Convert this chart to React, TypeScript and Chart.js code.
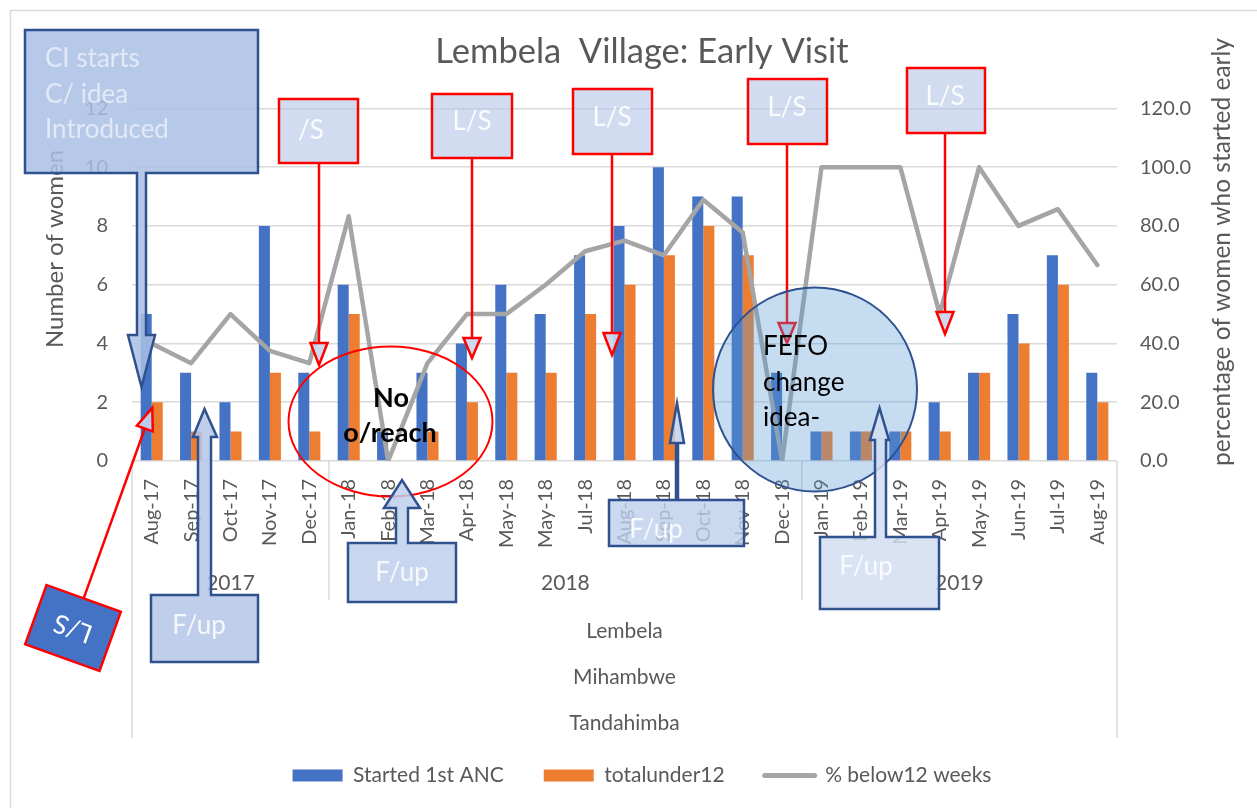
import React, { useEffect, useRef } from 'react';
import { Chart, registerables } from 'chart.js';

Chart.register(...registerables);

const FONT = 'Lato, "Open Sans", sans-serif';
const TEXT = '#595959';

// ---- data ----
const categories = ['Aug-17', 'Sep-17', 'Oct-17', 'Nov-17', 'Dec-17', 'Jan-18', 'Feb-18', 'Mar-18', 'Apr-18', 'May-18', 'May-18', 'Jul-18', 'Aug-18', 'Sep-18', 'Oct-18', 'Nov-18', 'Dec-18', 'Jan-19', 'Feb-19', 'Mar-19', 'Apr-19', 'May-19', 'Jun-19', 'Jul-19', 'Aug-19'];
const yearLabels = ['2017', '2018', '2019'];
const yearSpans = [5, 12, 8];
const districtLabels = ['Lembela', 'Mihambwe', 'Tandahimba'];
const startedAnc = [5, 3, 2, 8, 3, 6, 1, 3, 4, 6, 5, 7, 8, 10, 9, 9, 3, 1, 1, 1, 2, 3, 5, 7, 3];
const totalUnder12 = [2, 1, 1, 3, 1, 5, 0, 1, 2, 3, 3, 5, 6, 7, 8, 7, 0, 1, 1, 1, 1, 3, 4, 6, 2];
const pctBelow12 = [40, 33.3, 50, 37.5, 33.3, 83.3, 0, 33.3, 50, 50, 60, 71.4, 75, 70, 88.9, 77.8, 0, 100, 100, 100, 50, 100, 80, 85.7, 66.7];
const seriesNames = ['Started 1st ANC', 'totalunder12', '% below12 weeks'];
const titleText = 'Lembela  Village: Early Visit';
const leftAxisTitle = 'Number of women';
const rightAxisTitle = 'percentage of women who started early';

// ---- annotation layout (not data) ----
const redCallouts = [
  { text: '/S', box: [279, 99, 358, 163], tx: 311, ty: 131, lx: 319, headTop: 343, tip: 365 },
  { text: 'L/S', box: [432, 94, 512, 158], tx: 472, ty: 122, lx: 472, headTop: 338, tip: 358 },
  { text: 'L/S', box: [573, 89, 652, 154], tx: 612, ty: 118, lx: 612, headTop: 333, tip: 355 },
  { text: 'L/S', box: [748, 79, 827, 144], tx: 787, ty: 108, lx: 787, headTop: 323, tip: 343 },
  { text: 'L/S', box: [907, 68, 985, 133], tx: 945, ty: 97, lx: 945, headTop: 312, tip: 334 },
];
const fupCallouts = [
  { box: [151, 595, 258, 662], shaft: [198, 211], headY: 437, head: [193, 217], tip: [204.5, 409], tx: 199, ty: 626, fill: 'rgba(180,199,231,0.85)' },
  { box: [348, 543, 456, 602], shaft: [396, 408], headY: 508, head: [384, 420], tip: [402, 480], tx: 402, ty: 573, fill: 'rgba(190,207,236,0.85)' },
  { box: [609, 500, 744, 546], shaft: [676, 678], headY: 443, head: [670, 684], tip: [677, 403], tx: 656, ty: 530, fill: 'rgba(190,207,236,0.8)' },
  { box: [820, 537, 939, 609], shaft: [875, 886], headY: 440, head: [870, 889], tip: [879.5, 408], tx: 866, ty: 567, fill: 'rgba(210,222,242,0.85)' },
];

function redCallout(ctx: CanvasRenderingContext2D, c: any) {
  const [x1, y1, x2, y2] = c.box;
  ctx.save();
  ctx.lineWidth = 2.5;
  ctx.strokeStyle = '#FF0000';
  ctx.fillStyle = 'rgba(180,199,231,0.62)';
  ctx.fillRect(x1, y1, x2 - x1, y2 - y1);
  ctx.strokeRect(x1, y1, x2 - x1, y2 - y1);
  ctx.beginPath();
  ctx.moveTo(c.lx, y2);
  ctx.lineTo(c.lx, c.headTop);
  ctx.stroke();
  ctx.beginPath();
  ctx.moveTo(c.lx - 8.5, c.headTop);
  ctx.lineTo(c.lx + 8.5, c.headTop);
  ctx.lineTo(c.lx, c.tip);
  ctx.closePath();
  ctx.fillStyle = 'rgba(200,215,240,0.9)';
  ctx.fill();
  ctx.stroke();
  ctx.fillStyle = 'rgba(255,255,255,0.9)';
  ctx.font = `26px ${FONT}`;
  ctx.textAlign = 'center';
  ctx.textBaseline = 'middle';
  ctx.fillText(c.text, c.tx, c.ty);
  ctx.restore();
}

function upCallout(ctx: CanvasRenderingContext2D, c: any) {
  const [x1, y1, x2, y2] = c.box;
  const [sx1, sx2] = c.shaft;
  const [hx1, hx2] = c.head;
  ctx.save();
  ctx.beginPath();
  ctx.moveTo(x1, y1);
  ctx.lineTo(sx1, y1);
  ctx.lineTo(sx1, c.headY);
  ctx.lineTo(hx1, c.headY);
  ctx.lineTo(c.tip[0], c.tip[1]);
  ctx.lineTo(hx2, c.headY);
  ctx.lineTo(sx2, c.headY);
  ctx.lineTo(sx2, y1);
  ctx.lineTo(x2, y1);
  ctx.lineTo(x2, y2);
  ctx.lineTo(x1, y2);
  ctx.closePath();
  ctx.fillStyle = c.fill;
  ctx.fill();
  ctx.lineWidth = 2.5;
  ctx.lineJoin = 'miter';
  ctx.strokeStyle = '#2F528F';
  ctx.stroke();
  ctx.fillStyle = 'rgba(255,255,255,0.85)';
  ctx.font = `26px ${FONT}`;
  ctx.textAlign = 'center';
  ctx.textBaseline = 'middle';
  ctx.fillText('F/up', c.tx, c.ty);
  ctx.restore();
}

const extrasPlugin = {
  id: 'extras',
  afterDraw(chart: any) {
    const { ctx, chartArea: ca, scales } = chart;
    const xs = scales.x;
    ctx.save();

    // outer chart border
    ctx.strokeStyle = '#D9D9D9';
    ctx.lineWidth = 1.5;
    ctx.strokeRect(10.5, 10.5, 1265, 820);

    // multi-level category separators
    ctx.strokeStyle = '#D9D9D9';
    ctx.lineWidth = 1.5;
    const vline = (px: number, y2: number) => {
      ctx.beginPath();
      ctx.moveTo(px, ca.bottom);
      ctx.lineTo(px, y2);
      ctx.stroke();
    };
    vline(ca.left, ca.bottom + 277);
    vline(ca.right, ca.bottom + 277);

    ctx.fillStyle = TEXT;
    ctx.font = `21px ${FONT}`;
    ctx.textAlign = 'center';
    ctx.textBaseline = 'middle';
    let idx = 0;
    yearSpans.forEach((span, k) => {
      const start = idx;
      const end = idx + span - 1;
      const cx = (xs.getPixelForValue(start) + xs.getPixelForValue(end)) / 2;
      ctx.fillText(yearLabels[k], cx, ca.bottom + 122);
      if (k < yearSpans.length - 1) {
        const bx = (xs.getPixelForValue(end) + xs.getPixelForValue(end + 1)) / 2;
        vline(bx, ca.bottom + 139);
      }
      idx += span;
    });
    districtLabels.forEach((d, i) => {
      ctx.fillText(d, (ca.left + ca.right) / 2, ca.bottom + 170 + 46 * i);
    });

    // axis titles
    ctx.font = `24px ${FONT}`;
    ctx.save();
    ctx.translate(55, 249);
    ctx.rotate(-Math.PI / 2);
    ctx.fillText(leftAxisTitle, 0, 0);
    ctx.restore();
    ctx.save();
    ctx.translate(1222, 252);
    ctx.rotate(-Math.PI / 2);
    ctx.font = `24.5px ${FONT}`;
    ctx.fillText(rightAxisTitle, 0, 0);
    ctx.restore();

    // red L/S callouts
    redCallouts.forEach((c) => redCallout(ctx, c));

    // "No o/reach" ellipse
    ctx.beginPath();
    ctx.ellipse(390.5, 421.5, 102, 75, 0, 0, Math.PI * 2);
    ctx.strokeStyle = '#FF0000';
    ctx.lineWidth = 2;
    ctx.stroke();
    ctx.fillStyle = '#000000';
    ctx.font = `bold 27px ${FONT}`;
    ctx.textAlign = 'center';
    ctx.fillText('No', 391, 398);
    ctx.fillText('o/reach', 390, 433);

    // CI callout (down arrow)
    ctx.beginPath();
    ctx.moveTo(25, 30);
    ctx.lineTo(258, 30);
    ctx.lineTo(258, 173);
    ctx.lineTo(146, 173);
    ctx.lineTo(146, 335);
    ctx.lineTo(155, 335);
    ctx.lineTo(141.5, 387);
    ctx.lineTo(128, 335);
    ctx.lineTo(137, 335);
    ctx.lineTo(137, 173);
    ctx.lineTo(25, 173);
    ctx.closePath();
    ctx.fillStyle = 'rgba(170,192,228,0.85)';
    ctx.fill();
    ctx.strokeStyle = '#2F528F';
    ctx.lineWidth = 2.5;
    ctx.stroke();
    ctx.fillStyle = 'rgba(255,255,255,0.6)';
    ctx.font = `26px ${FONT}`;
    ctx.textAlign = 'left';
    ctx.fillText('CI starts', 45, 59);
    ctx.fillText('C/ idea', 45, 95);
    ctx.fillText('Introduced', 45, 130);

    // FEFO circle
    ctx.beginPath();
    ctx.arc(815, 389.5, 102, 0, Math.PI * 2);
    ctx.fillStyle = 'rgba(91,155,213,0.35)';
    ctx.fill();
    ctx.strokeStyle = '#2F528F';
    ctx.lineWidth = 2;
    ctx.stroke();
    ctx.fillStyle = '#000000';
    ctx.font = `26px ${FONT}`;
    ctx.textAlign = 'left';
    ctx.fillText('FEFO', 763, 347);
    ctx.fillText('change', 763, 383);
    ctx.fillText('idea-', 763, 418);

    // F/up callouts
    fupCallouts.forEach((c) => upCallout(ctx, c));

    // rotated L/S callout
    ctx.save();
    ctx.translate(73, 628);
    ctx.rotate((199.8 * Math.PI) / 180);
    const w = 79, h = 63, D = 234, hl = 22;
    ctx.strokeStyle = '#FF0000';
    ctx.lineWidth = 2.5;
    ctx.beginPath();
    ctx.moveTo(0, h / 2);
    ctx.lineTo(0, D - hl);
    ctx.stroke();
    ctx.beginPath();
    ctx.moveTo(-8.5, D - hl);
    ctx.lineTo(8.5, D - hl);
    ctx.lineTo(0, D);
    ctx.closePath();
    ctx.fillStyle = 'rgba(200,215,240,0.9)';
    ctx.fill();
    ctx.stroke();
    ctx.fillStyle = '#4472C4';
    ctx.fillRect(-w / 2, -h / 2, w, h);
    ctx.strokeRect(-w / 2, -h / 2, w, h);
    ctx.fillStyle = '#FFFFFF';
    ctx.font = `26px ${FONT}`;
    ctx.textAlign = 'center';
    ctx.textBaseline = 'middle';
    ctx.fillText('L/S', 0, 0);
    ctx.restore();

    ctx.restore();
  },
};

export default function App() {
  const ref = useRef<HTMLCanvasElement>(null);
  useEffect(() => {
    const canvas = ref.current;
    if (!canvas) return;
    const chart = new Chart(canvas, {
      type: 'bar',
      data: {
        labels: categories,
        datasets: [
          {
            type: 'bar',
            label: seriesNames[0],
            data: startedAnc,
            backgroundColor: '#4472C4',
            yAxisID: 'y',
            order: 1,
            categoryPercentage: 0.56,
            barPercentage: 1,
          },
          {
            type: 'bar',
            label: seriesNames[1],
            data: totalUnder12,
            backgroundColor: '#ED7D31',
            yAxisID: 'y',
            order: 1,
            categoryPercentage: 0.56,
            barPercentage: 1,
          },
          {
            type: 'line',
            label: seriesNames[2],
            data: pctBelow12,
            borderColor: '#A5A5A5',
            backgroundColor: '#A5A5A5',
            borderWidth: 4.5,
            borderJoinStyle: 'round',
            borderCapStyle: 'round',
            pointRadius: 0,
            tension: 0,
            yAxisID: 'y1',
            order: 0,
          },
        ],
      } as any,
      options: {
        responsive: false,
        animation: false,
        layout: { padding: { left: 27, right: 0, top: 0, bottom: 12 } },
        plugins: {
          title: {
            display: true,
            text: titleText,
            color: TEXT,
            font: { family: FONT, size: 34.5, weight: 'normal' },
            padding: { top: 31, bottom: 36 },
          },
          legend: {
            position: 'bottom',
            labels: {
              usePointStyle: true,
              pointStyleWidth: 50,
              boxHeight: 12,
              padding: 40,
              color: TEXT,
              font: { family: FONT, size: 21 },
              sort: (a: any, b: any) => a.datasetIndex - b.datasetIndex,
              generateLabels: (c: any) => {
                const items = (Chart.defaults as any).plugins.legend.labels.generateLabels(c);
                return items.map((it: any) =>
                  it.datasetIndex === 2
                    ? { ...it, pointStyle: 'line', strokeStyle: '#A5A5A5', lineWidth: 5, lineCap: 'round' }
                    : { ...it, pointStyle: 'rect', lineWidth: 0 }
                );
              },
            },
          },
          tooltip: { enabled: false },
        },
        scales: {
          x: {
            type: 'category',
            grid: { display: false, drawTicks: false },
            border: { display: false },
            ticks: {
              autoSkip: false,
              maxRotation: 90,
              minRotation: 90,
              padding: 18,
              color: TEXT,
              font: { family: FONT, size: 20 },
            },
            afterFit: (s: any) => {
              s.height = 264;
            },
          },
          y: {
            position: 'left',
            min: 0,
            max: 12,
            ticks: { stepSize: 2, padding: 24, color: TEXT, font: { family: FONT, size: 20 } },
            grid: { color: '#D9D9D9', lineWidth: 1.5, drawTicks: false },
            border: { display: false },
            afterFit: (s: any) => {
              s.width = 105;
            },
          },
          y1: {
            position: 'right',
            min: 0,
            max: 120,
            ticks: {
              stepSize: 20,
              padding: 23,
              color: TEXT,
              font: { family: FONT, size: 20 },
              callback: (v: any) => Number(v).toFixed(1),
            },
            grid: { display: false, drawTicks: false },
            border: { display: false },
            afterFit: (s: any) => {
              s.width = 140;
            },
          },
        },
      } as any,
      plugins: [extrasPlugin],
    });
    return () => chart.destroy();
  }, []);

  return (
    <div style={{ position: 'absolute', left: 0, top: 0, width: 1257, height: 808, background: '#FFFFFF' }}>
      <canvas ref={ref} width={1257} height={808} style={{ display: 'block' }} />
    </div>
  );
}
